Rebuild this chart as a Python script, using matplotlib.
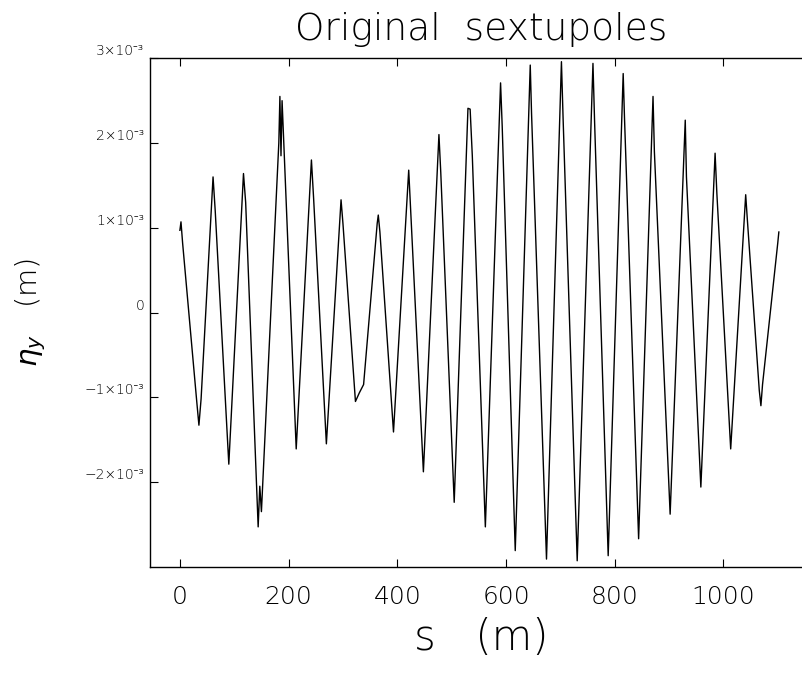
import numpy as np
import matplotlib
matplotlib.use("Agg")
import matplotlib.pyplot as plt

# ---- data ----
s_m = [0, 2, 5, 31, 35, 39, 61, 65, 90, 117, 121, 144, 147, 150,
       182, 184, 186, 188, 214, 242, 246, 269.5, 296.5, 300,
       323, 330, 338, 363, 365, 368, 393, 421, 448, 476.6, 480,
       504.7, 530, 534, 538, 562, 590, 593, 617, 644.6, 647,
       674.5, 702, 705, 731, 760, 763, 788, 815.6, 818, 844,
       870.5, 873, 902, 929.8, 932, 958.5, 984.7, 988, 1013.4,
       1041, 1044, 1066, 1069, 1072, 1100, 1102]
eta_mm = [0.97, 1.07, 0.82, -1.05, -1.33, -1.02, 1.60, 1.20, -1.79, 1.64, 1.30, -2.53, -2.05, -2.35,
          2.00, 2.55, 1.85, 2.50, -1.61, 1.80, 1.35, -1.55, 1.33, 1.05,
          -1.05, -0.95, -0.85, 1.05, 1.15, 0.95, -1.41, 1.68, -1.88, 2.10, 1.65,
          -2.24, 2.41, 2.40, 1.85, -2.53, 2.71, 2.20, -2.81, 2.92, 2.35,
          -2.91, 2.96, 2.30, -2.93, 2.94, 2.25, -2.87, 2.82, 2.30, -2.67,
          2.55, 1.90, -2.38, 2.27, 1.60, -2.06, 1.88, 1.40, -1.61,
          1.39, 1.10, -0.92, -1.10, -0.85, 0.82, 0.95]

xticks = [0, 200, 400, 600, 800, 1000]
xtick_labels = ["0", "200", "400", "600", "800", "1000"]
yticks = [-2e-3, -1e-3, 0.0, 1e-3, 2e-3, 3e-3]
ytick_labels = ["\u22122\u00d710\u207b\u00b3", "\u22121\u00d710\u207b\u00b3", "0",
                "1\u00d710\u207b\u00b3", "2\u00d710\u207b\u00b3", "3\u00d710\u207b\u00b3"]

title = "Original  sextupoles"
xlabel = "s   (m)"
ylabel = r"$\eta_y$   (m)"

# ---- figure ----
plt.rcParams['font.family'] = ['DejaVu Sans', 'Noto Sans', 'Liberation Sans']
plt.rcParams['mathtext.fontset'] = 'dejavusans'
fig = plt.figure(figsize=(8.03, 6.74), dpi=100)
# axes box: left spine at x=150 px, right spine just beyond the image edge
ax = fig.add_axes([150/803, 1-566.7/674, 662/803, (566.7-58.3)/674])
ax.patch.set_visible(False)

ax.plot(s_m, np.array(eta_mm)*1e-3, color='black', lw=1.0)

ax.set_xlim(-55, 1163)
ax.set_ylim(-3e-3, 3e-3)

ax.set_xticks(xticks)
ax.set_xticklabels(xtick_labels, fontsize=18, fontweight='light')
ax.set_yticks(yticks)
ax.set_yticklabels(ytick_labels, fontsize=10, fontweight='light')
for t in ax.get_yticklabels():
    t.set_verticalalignment('bottom')

ax.tick_params(axis='both', direction='in', length=6, width=0.8,
               top=True, right=False, color='black')
ax.tick_params(axis='x', pad=13)
ax.tick_params(axis='y', pad=4)
for sp in ax.spines.values():
    sp.set_linewidth(1.0)
ax.spines['right'].set_visible(False)

# short tick stubs on the right edge (right spine lies outside the picture)
for yt in yticks:
    ax.plot([0.993, 1.0], [yt, yt], transform=ax.get_yaxis_transform(),
            color='black', lw=0.8, clip_on=False)

ax.set_title(title, fontsize=27, pad=13, fontweight='light')
ax.set_xlabel(xlabel, fontsize=30, labelpad=6, fontweight='light')
ax.set_ylabel(ylabel, fontsize=21, fontweight='light')
ax.yaxis.label.set_verticalalignment('center')
ax.yaxis.set_label_coords(-0.180, 0.5)

fig.savefig("out.png", dpi=100)
